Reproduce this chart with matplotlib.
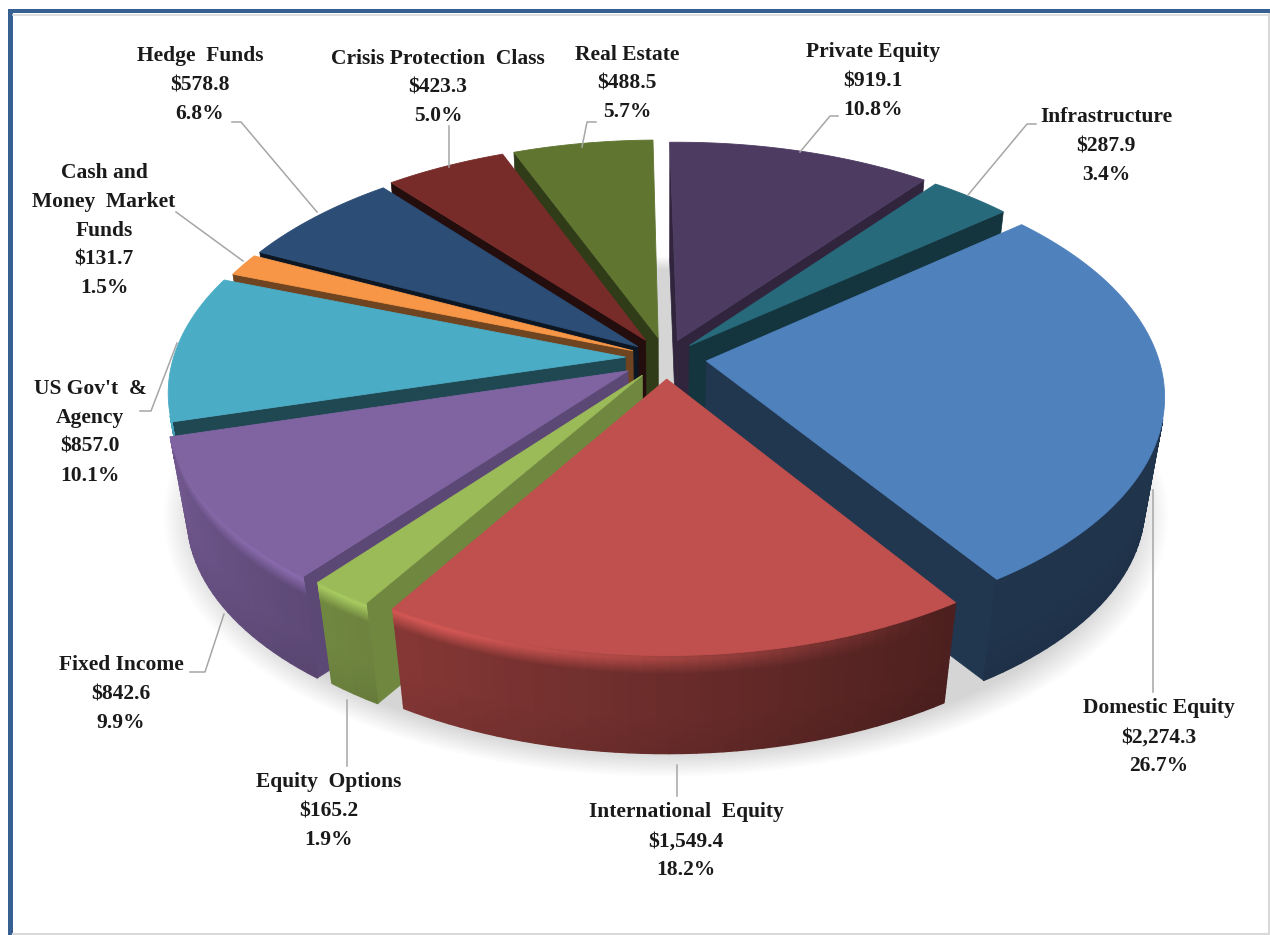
import numpy as np
import matplotlib
matplotlib.use('Agg')
import matplotlib.pyplot as plt
from matplotlib.collections import PolyCollection
from matplotlib.colors import to_rgb
from matplotlib.patches import Polygon

# Assets by class, clockwise from the top of the pie
names = ['Private Equity', 'Infrastructure', 'Domestic Equity', 'International  Equity',
         'Equity  Options', 'Fixed Income', "US Gov't  &\nAgency",
         'Cash and\nMoney  Market\nFunds', 'Hedge  Funds', 'Crisis Protection  Class', 'Real Estate']
values = [919.1, 287.9, 2274.3, 1549.4, 165.2, 842.6, 857.0, 131.7, 578.8, 423.3, 488.5]
percents = ['10.8%', '3.4%', '26.7%', '18.2%', '1.9%', '9.9%', '10.1%', '1.5%', '6.8%', '5.0%', '5.7%']

colors = ['#4d3b62', '#276a7c', '#4f81bd', '#c0504d', '#9bbb59', '#8064a2',
          '#4bacc6', '#f79646', '#2c4d75', '#772c2a', '#5f7530']
cut_shade = [0.62, 0.5, 0.42, 0.6, 0.72, 0.72, 0.42, 0.45, 0.3, 0.3, 0.5]
explode = [0.08, 0.075, 0.09, 0.09, 0.09, 0.10, 0.09, 0.08, 0.08, 0.09, 0.09]

# centre of the first text line of each label, in pixels
label_pos = [(873, 51), (1106, 116), (1159, 707), (686, 811), (329, 781), (121, 664),
             (90, 388), (104, 172), (200, 55), (438, 57), (627, 53)]
leaders = [
    [(800, 152), (830, 116), (838, 116)],
    [(968, 195), (1027, 124), (1036, 124)],
    [(1153, 490), (1153, 692)],
    [(677, 765), (677, 796)],
    [(347, 700), (347, 766)],
    [(224, 614), (205, 672), (190, 672)],
    [(177, 343), (151, 411), (140, 411)],
    [(243, 261), (176, 212)],
    [(317, 212), (241, 122), (232, 122)],
    [(449, 167), (449, 126)],
    [(582, 147), (587, 122), (596, 122)],
]

# projection of the pie
CX, CY = 666, 358
R, RY = 452, 231
PERSP = 0.141
DEPTH = 110
SHRINK = 0.04
START = -0.9


def project(u, v, z):
    s = (1 - SHRINK * z) / (1 - PERSP * v)
    return CX + R * u * s, CY + RY * v * s + DEPTH * z


def rim(theta, mid, e, z, radius=1.0):
    u = radius * np.sin(theta) + e * np.sin(mid)
    v = -radius * np.cos(theta) - e * np.cos(mid)
    return project(u, v, z)


def wall_shade(deg):
    # the light comes from the front left
    return np.interp(deg % 360, [0, 147, 230, 265, 360], [0.4, 0.4, 0.78, 0.92, 0.92])


def highlight(deg):
    # rounded edge only catches the light on the front left
    return np.interp(deg % 360, [0, 150, 205, 265, 360], [0, 0, 1, 0.7, 0.7])


def scaled(rgb, f):
    return tuple(np.clip(np.array(rgb) * f, 0, 1))


def mix(a, b, t):
    return tuple(np.array(a) * (1 - t) + np.array(b) * t)


def area(pts):
    x, y = np.array(pts).T
    return 0.5 * np.sum(x * np.roll(y, -1) - np.roll(x, -1) * y)


fig = plt.figure(figsize=(12.7, 9.35), dpi=100)
ax = fig.add_axes([0, 0, 1, 1])
ax.set_xlim(0, 1270)
ax.set_ylim(935, 0)
ax.axis('off')

# frame
ax.add_patch(Polygon([(8, 9), (1270, 9), (1270, 13), (13, 13), (13, 935), (8, 935)],
                     closed=True, fc='#366092', ec='none', zorder=1))
ax.plot([13, 1270], [14.5, 14.5], color='#d9d9d9', lw=1.2, zorder=1)
ax.plot([1268.5, 1268.5], [14, 935], color='#d9d9d9', lw=1.5, zorder=1)
ax.plot([13, 1270], [934, 934], color='#d9d9d9', lw=1.5, zorder=1)

# soft shadow under the pie
t = np.linspace(0, 2 * np.pi, 240)
for grow in np.linspace(0.98, 1.05, 14):
    x, y = project(1.09 * grow * np.sin(t), 1.09 * grow * -np.cos(t), 1.06)
    ax.fill(x, y, color='black', alpha=0.012, lw=0, zorder=2)

total = sum(values)
edges = np.radians(START + np.cumsum([0] + values) / total * 360)
mids = (edges[:-1] + edges[1:]) / 2

z_levels = np.concatenate([np.linspace(0, 0.2, 41), np.linspace(0.25, 1, 16)])
z_light = np.interp(z_levels, [0, 0.04, 0.09, 0.2, 1.0], [0.85, 1.0, 0.7, 0.0, 0.0])
z_dim = np.interp(z_levels, [0, 0.6, 1.0], [0, 0, 0.06])

order = np.argsort(-np.cos(mids))
zo = 3
for i in order:
    a0, a1, mid, e = edges[i], edges[i + 1], mids[i], explode[i]
    rgb = to_rgb(colors[i])

    # cut faces running in to the centre, only the ones turned to the viewer
    cut = scaled(rgb, cut_shade[i])
    face0 = [rim(a0, mid, e, 0, 0.0), rim(a0, mid, e, 0), rim(a0, mid, e, 1), rim(a0, mid, e, 1, 0.0)]
    face1 = [rim(a1, mid, e, 1, 0.0), rim(a1, mid, e, 1), rim(a1, mid, e, 0), rim(a1, mid, e, 0, 0.0)]
    for pts in (face0, face1):
        if area(pts) < 0:
            ax.add_patch(Polygon(pts, closed=True, fc=cut, ec=cut, lw=0.5, zorder=zo))
    zo += 1

    # outer wall as small quads, so the light can change along the rim
    n = max(int(np.degrees(a1 - a0) / 1.5), 3)
    th = np.linspace(a0, a1, n + 1)
    quads, cols = [], []
    for j in range(n):
        deg = np.degrees((th[j] + th[j + 1]) / 2)
        base = scaled(rgb, wall_shade(deg))
        bright = tuple(np.clip(np.array(rgb) * 1.1, 0, 1))
        for k in range(len(z_levels) - 1):
            z0, z1 = z_levels[k], z_levels[k + 1]
            quad = [rim(th[j], mid, e, z0), rim(th[j + 1], mid, e, z0),
                    rim(th[j + 1], mid, e, z1), rim(th[j], mid, e, z1)]
            if area(quad) >= 0:
                continue
            quads.append(quad)
            lit = (z_light[k] + z_light[k + 1]) / 2 * highlight(deg)
            cols.append(scaled(mix(base, bright, lit), 1 - z_dim[k]))
    ax.add_collection(PolyCollection(quads, facecolors=cols, edgecolors=cols, linewidths=1.0, zorder=zo))
    zo += 1

    # top face
    arc = np.linspace(a0, a1, n * 4 + 1)
    xa, ya = rim(arc, mid, e, 0)
    pts = [rim(a0, mid, e, 0, 0.0)] + list(zip(xa, ya))
    ax.add_patch(Polygon(pts, closed=True, fc=rgb, ec=rgb, lw=0.6, zorder=zo))
    zo += 1

# leader lines
for line in leaders:
    xs, ys = zip(*line)
    ax.plot(xs, ys, color='#a6a6a6', lw=1.1, zorder=zo)

# labels, one text per line
zo += 1
LINE_H = 28.7
for name, val, pct, (lx, ly) in zip(names, values, percents, label_pos):
    lines = name.split('\n') + [f'${val:,.1f}', pct]
    for k, s in enumerate(lines):
        ax.text(lx, ly + 1.5 + k * LINE_H, s, ha='center', va='center', family='Liberation Serif',
                weight='bold', fontsize=15.5, color='#1a1a1a', zorder=zo)

fig.savefig('out.png', dpi=100, facecolor='white')
